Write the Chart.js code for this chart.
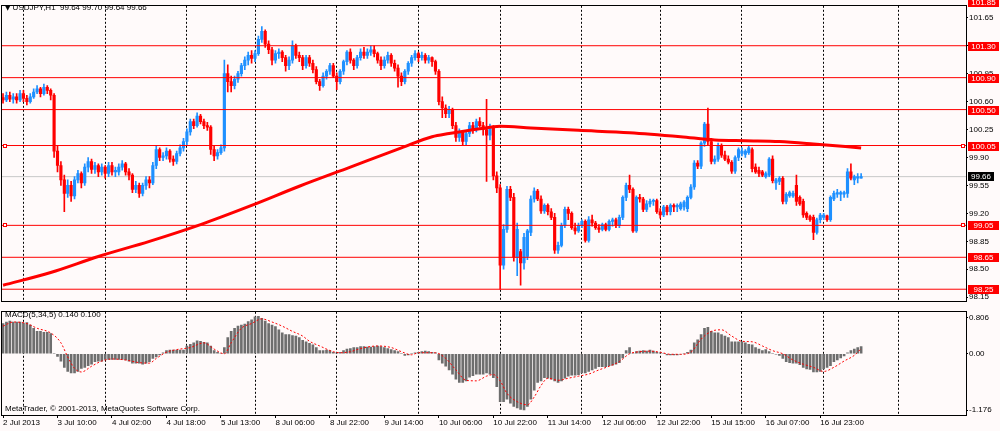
<!DOCTYPE html>
<html><head><meta charset="utf-8">
<script src="https://cdn.jsdelivr.net/npm/chart.js@4.4.1/dist/chart.umd.min.js"></script>
<style>
html,body{margin:0;padding:0;background:#FFFAFA;}
#wrap{position:relative;width:1000px;height:431px;overflow:hidden;background:#FFFAFA;}
canvas{position:absolute;left:0;}
#c1{top:0;}
#c2{top:306px;}
.t{position:absolute;font:8px 'Liberation Sans',Arial,sans-serif;color:#000;white-space:pre;line-height:10px;}
.tri{font-family:'DejaVu Sans';font-size:7px;}
</style></head><body>
<div id="wrap">
<canvas id="c1" width="1000" height="307"></canvas>
<canvas id="c2" width="1000" height="125"></canvas>
<div class="t" style="left:5px;top:3px"><span class="tri">▼</span> USDJPY,H1  99.64 99.70 99.64 99.66</div>
<div class="t" style="left:5px;top:310px">MACD(5,34,5) 0.140 0.100</div>
<div class="t" style="left:5px;top:404px">MetaTrader, © 2001-2013, MetaQuotes Software Corp.</div>
</div>
<script>
// ---------------- DATA ----------------
const open=[100.65,100.62,100.68,100.63,100.66,100.62,100.70,100.64,100.60,
100.66,100.72,100.76,100.70,100.78,100.74,100.68,99.98,99.80,99.62,
99.45,99.55,99.42,99.62,99.70,99.58,99.78,99.85,99.75,99.80,
99.72,99.78,99.70,99.80,99.72,99.72,99.78,99.82,99.72,99.68,99.50,
99.55,99.45,99.55,99.62,99.58,99.80,100.00,99.90,99.92,99.98,
99.88,99.85,99.95,100.02,100.10,100.22,100.35,100.30,100.42,100.35,
100.30,100.28,100.00,99.92,99.96,100.02,100.95,100.85,100.80,100.88,
100.95,101.05,101.12,101.18,101.14,101.20,101.38,101.48,101.32,101.25,
101.12,101.20,101.22,101.15,101.05,101.12,101.30,101.18,101.15,101.05,
101.15,101.08,101.00,100.85,100.80,100.92,100.98,101.05,100.92,100.85,
100.98,101.10,101.22,101.12,101.05,101.15,101.22,101.18,101.22,101.25,
101.20,101.12,101.05,101.12,101.18,101.08,101.02,100.92,100.85,100.98,
101.08,101.15,101.20,101.15,101.18,101.12,101.15,101.10,100.98,100.60,
100.52,100.45,100.50,100.30,100.15,100.22,100.10,100.20,100.30,100.25,
100.35,100.30,100.25,100.18,100.28,99.67,99.52,98.55,99.00,99.50,
99.40,98.65,98.72,98.58,98.66,98.96,99.38,99.48,99.38,99.23,
99.30,99.22,99.15,98.74,98.80,99.05,99.25,99.20,99.02,98.98,
99.05,99.10,98.86,99.12,99.08,99.02,99.00,99.06,99.00,99.10,
99.12,99.05,99.15,99.40,99.55,99.50,98.98,99.40,99.38,99.25,
99.32,99.35,99.36,99.22,99.18,99.28,99.22,99.30,99.28,99.26,
99.28,99.26,99.40,99.53,99.83,99.79,100.08,100.32,100.10,99.85,
99.88,100.05,99.93,99.88,99.84,99.73,99.90,99.95,99.94,99.96,
100.00,99.78,99.74,99.72,99.66,99.68,99.88,99.58,99.60,99.64,
99.35,99.42,99.42,99.55,99.40,99.35,99.20,99.16,99.15,98.96,
99.12,99.15,99.17,99.12,99.38,99.44,99.44,99.44,99.45,99.72,
99.62,99.64,99.64];
const high=[100.70,100.72,100.72,100.70,100.70,100.74,100.74,100.68,100.70,
100.76,100.80,100.78,100.82,100.80,100.76,100.70,100.05,99.85,99.68,
99.62,99.60,99.66,99.74,99.72,99.82,99.90,99.88,99.84,99.82,
99.82,99.80,99.84,99.84,99.78,99.82,99.86,99.84,99.76,99.70,99.60,
99.58,99.58,99.66,99.66,99.84,100.04,100.02,99.96,100.02,100.00,
99.92,99.98,100.06,100.14,100.26,100.38,100.38,100.46,100.44,100.38,
100.34,100.30,100.04,100.00,100.06,101.12,101.06,100.92,100.92,100.98,
101.08,101.16,101.22,101.24,101.24,101.42,101.54,101.50,101.36,101.28,
101.24,101.26,101.24,101.18,101.16,101.36,101.32,101.22,101.18,101.18,
101.18,101.12,101.04,100.88,100.96,101.00,101.08,101.08,100.96,101.00,
101.12,101.24,101.26,101.14,101.18,101.26,101.28,101.26,101.30,101.30,
101.22,101.16,101.16,101.22,101.20,101.12,101.06,100.96,101.00,101.10,
101.18,101.24,101.22,101.22,101.20,101.18,101.16,101.12,101.00,100.66,
100.56,100.54,100.52,100.34,100.26,100.24,100.24,100.34,100.34,100.38,
100.40,100.34,100.63,100.32,100.30,99.72,99.56,99.06,99.54,99.54,
99.45,99.08,98.75,98.95,99.00,99.42,99.52,99.50,99.42,99.32,
99.32,99.26,99.20,98.84,99.08,99.28,99.28,99.22,99.08,99.08,
99.12,99.12,99.16,99.18,99.10,99.06,99.08,99.08,99.12,99.14,
99.14,99.18,99.42,99.58,99.68,99.52,99.42,99.44,99.40,99.36,
99.38,99.38,99.38,99.26,99.30,99.30,99.32,99.32,99.32,99.34,
99.36,99.42,99.56,99.86,99.86,100.10,100.34,100.52,100.14,99.92,
100.08,100.07,99.98,99.92,99.86,99.92,100.02,100.02,100.00,100.04,
100.02,99.82,99.78,99.74,99.72,99.90,99.92,99.64,99.66,99.66,
99.46,99.48,99.48,99.68,99.42,99.38,99.22,99.18,99.18,99.14,
99.20,99.20,99.18,99.42,99.48,99.50,99.48,99.48,99.76,99.82,
99.68,99.70,99.70];
const low=[100.58,100.60,100.60,100.58,100.58,100.60,100.60,100.56,100.58,
100.64,100.70,100.66,100.68,100.70,100.62,99.90,99.72,99.55,99.22,
99.40,99.35,99.38,99.58,99.52,99.55,99.72,99.70,99.70,99.66,
99.68,99.64,99.66,99.68,99.66,99.68,99.74,99.68,99.62,99.46,99.46,
99.40,99.42,99.50,99.52,99.56,99.76,99.86,99.86,99.88,99.84,
99.80,99.82,99.92,99.98,100.06,100.18,100.26,100.28,100.32,100.26,
100.24,99.94,99.86,99.88,99.94,99.98,100.72,100.72,100.76,100.84,
100.92,101.00,101.06,101.08,101.10,101.18,101.34,101.28,101.20,101.06,
101.08,101.14,101.10,100.98,101.00,101.08,101.14,101.10,101.00,101.02,
101.04,100.96,100.82,100.74,100.78,100.88,100.94,100.90,100.75,100.82,
100.94,101.06,101.08,101.00,101.02,101.12,101.14,101.14,101.18,101.16,
101.08,101.00,101.02,101.08,101.04,100.98,100.78,100.80,100.82,100.94,
101.04,101.12,101.10,101.12,101.08,101.08,101.04,100.94,100.56,100.40,
100.40,100.40,100.26,100.10,100.10,100.06,100.06,100.16,100.20,100.22,
100.28,100.18,99.60,100.12,99.62,99.46,98.25,98.50,98.96,99.36,
98.60,98.42,98.30,98.50,98.62,98.92,99.34,99.36,99.20,99.20,
99.18,99.12,98.70,98.70,98.78,99.02,99.12,99.00,98.94,98.96,
99.02,98.84,98.84,99.04,99.00,98.96,98.98,98.98,98.98,99.04,
99.02,99.02,99.12,99.36,99.46,98.96,98.96,99.34,99.22,99.22,
99.28,99.30,99.20,99.14,99.16,99.18,99.18,99.22,99.22,99.24,
99.24,99.22,99.38,99.50,99.76,99.76,100.04,100.06,99.82,99.82,
99.85,99.90,99.86,99.82,99.70,99.70,99.86,99.92,99.90,99.94,
99.72,99.70,99.66,99.66,99.64,99.66,99.58,99.50,99.56,99.32,
99.32,99.40,99.40,99.30,99.30,99.15,99.12,99.10,98.87,98.94,
99.08,99.12,99.10,99.10,99.36,99.40,99.36,99.40,99.40,99.62,
99.56,99.58,99.64];
const close=[100.62,100.68,100.63,100.66,100.62,100.70,100.64,100.60,100.66,
100.72,100.76,100.70,100.78,100.74,100.68,99.98,99.80,99.62,99.45,
99.55,99.42,99.62,99.70,99.58,99.78,99.85,99.75,99.80,99.72,
99.78,99.70,99.80,99.72,99.74,99.78,99.82,99.72,99.68,99.50,99.55,
99.45,99.55,99.62,99.58,99.80,100.00,99.90,99.92,99.98,99.88,
99.85,99.95,100.02,100.10,100.22,100.35,100.30,100.42,100.35,100.30,
100.28,100.00,99.92,99.96,100.02,100.95,100.85,100.80,100.88,100.95,
101.05,101.12,101.18,101.14,101.20,101.38,101.48,101.32,101.25,101.12,
101.20,101.22,101.15,101.05,101.12,101.30,101.18,101.15,101.05,101.15,
101.08,101.00,100.85,100.80,100.92,100.98,101.05,100.92,100.85,100.98,
101.10,101.22,101.12,101.05,101.15,101.22,101.18,101.22,101.25,101.20,
101.12,101.05,101.12,101.18,101.08,101.02,100.92,100.85,100.98,101.08,
101.15,101.20,101.15,101.18,101.12,101.15,101.10,100.98,100.60,100.52,
100.45,100.50,100.30,100.15,100.22,100.10,100.20,100.30,100.25,100.35,
100.30,100.25,100.18,100.28,99.67,99.52,98.55,99.00,99.50,99.40,
98.65,99.00,98.58,98.90,98.98,99.38,99.48,99.38,99.23,99.30,
99.22,99.15,98.74,98.80,99.05,99.25,99.20,99.02,98.98,99.05,
99.10,98.86,99.12,99.08,99.02,99.00,99.06,99.00,99.10,99.12,
99.05,99.15,99.40,99.55,99.50,98.98,99.40,99.38,99.25,99.32,
99.35,99.36,99.22,99.18,99.28,99.22,99.30,99.28,99.30,99.32,
99.34,99.40,99.53,99.83,99.79,100.08,100.32,100.10,99.85,99.88,
100.05,99.93,99.88,99.84,99.73,99.90,100.00,99.98,99.98,100.02,
99.76,99.72,99.70,99.68,99.70,99.88,99.61,99.62,99.64,99.35,
99.44,99.46,99.45,99.35,99.32,99.18,99.15,99.12,98.96,99.12,
99.18,99.18,99.12,99.40,99.45,99.46,99.46,99.46,99.72,99.64,
99.66,99.66,99.66];
// moving average (read at sample bars)
const maIdx=[0,14,28,43,58,73,87,102,117,126,131,140,146,155,169,184,199,209,218,228,238,252];
const maVal=[98.30,98.46,98.66,98.85,99.06,99.30,99.54,99.78,100.02,100.16,100.20,100.26,100.29,100.27,100.24,100.21,100.16,100.12,100.11,100.10,100.07,100.02];
// MACD(5,34,5) main histogram per bar
const macd=[0.58,0.61,0.63,0.61,0.61,0.61,0.59,0.60,0.55,0.49,
0.43,0.43,0.41,0.41,0.39,0.01,-0.05,-0.14,-0.26,-0.34,
-0.37,-0.37,-0.34,-0.28,-0.26,-0.23,-0.20,-0.15,-0.14,-0.14,
-0.11,-0.11,-0.11,-0.11,-0.11,-0.11,-0.12,-0.14,-0.18,-0.18,
-0.18,-0.20,-0.18,-0.15,-0.09,-0.06,-0.02,0.02,0.06,0.07,
0.07,0.07,0.07,0.07,0.15,0.18,0.21,0.25,0.24,0.22,
0.21,0.15,0.06,0.03,0.00,0.12,0.31,0.43,0.49,0.53,
0.55,0.57,0.62,0.65,0.71,0.72,0.68,0.63,0.58,0.55,
0.52,0.46,0.40,0.37,0.37,0.35,0.34,0.31,0.26,0.23,
0.20,0.17,0.12,0.06,0.06,0.07,0.06,0.03,0.02,0.03,
0.06,0.09,0.10,0.12,0.12,0.14,0.14,0.13,0.13,0.14,
0.15,0.14,0.12,0.10,0.08,0.06,0.04,0.00,-0.03,-0.02,
0.00,0.02,0.03,0.04,0.05,0.04,0.03,0.02,-0.12,-0.18,
-0.24,-0.31,-0.39,-0.49,-0.55,-0.55,-0.52,-0.45,-0.42,-0.39,
-0.39,-0.39,-0.37,-0.39,-0.46,-0.63,-0.92,-0.92,-0.87,-0.95,
-1.01,-1.04,-1.07,-1.08,-1.01,-0.87,-0.70,-0.55,-0.52,-0.46,
-0.47,-0.49,-0.52,-0.55,-0.52,-0.47,-0.43,-0.41,-0.41,-0.40,
-0.37,-0.37,-0.34,-0.31,-0.28,-0.25,-0.25,-0.25,-0.23,-0.22,
-0.20,-0.17,-0.08,0.06,0.12,0.00,0.04,0.05,0.06,0.05,
0.07,0.05,0.03,0.02,0.00,-0.02,-0.02,-0.02,-0.02,-0.01,
0.00,0.03,0.07,0.21,0.27,0.37,0.49,0.51,0.43,0.40,
0.40,0.37,0.34,0.31,0.23,0.23,0.23,0.23,0.21,0.18,
0.17,0.12,0.09,0.06,0.08,0.04,0.00,-0.01,-0.03,-0.09,
-0.15,-0.17,-0.18,-0.18,-0.21,-0.26,-0.29,-0.30,-0.35,-0.35,
-0.34,-0.29,-0.26,-0.23,-0.15,-0.12,-0.08,-0.04,0.02,0.06,
0.09,0.12,0.14];
// MACD signal line (read at sample bars)
const sigIdx=[0,3,7,10,14,17,19,21,23,26,29,32,36,40,43,45,48,51,55,59,62,65,67,70,73,76,79,82,85,88,90,93,97,99,102,105,110,114,117,120,122,127,130,133,136,139,142,144,146,148,151,154,156,158,160,163,166,169,172,175,178,181,184,187,190,193,196,199,202,205,208,211,214,217,220,223,226,229,232,235,238,241,244,247,250,252];
const sigVal=[0.53,0.61,0.58,0.49,0.40,0.21,-0.06,-0.28,-0.35,-0.24,-0.14,-0.10,-0.12,-0.17,-0.18,-0.09,0.03,0.08,0.12,0.21,0.09,0.00,0.21,0.49,0.58,0.67,0.61,0.53,0.43,0.34,0.24,0.15,0.04,0.02,0.04,0.10,0.15,0.12,0.04,-0.02,0.02,0.02,-0.09,-0.31,-0.51,-0.52,-0.43,-0.40,-0.52,-0.76,-0.92,-0.98,-0.83,-0.61,-0.47,-0.51,-0.47,-0.43,-0.39,-0.31,-0.24,-0.15,0.00,0.04,0.05,0.03,-0.01,-0.01,0.03,0.28,0.43,0.46,0.34,0.24,0.23,0.15,0.06,0.00,-0.12,-0.20,-0.26,-0.34,-0.26,-0.14,-0.03,0.10];
// horizontal levels and bid
const levels=[101.85,101.30,100.90,100.50,100.05,99.05,98.65,98.25];
const markedLevels=[100.05,99.05];
const bid=99.66;
// axis ticks
const priceTicks=[98.15,98.50,98.85,99.20,99.55,99.90,100.25,100.60,100.95,101.30,101.65];
const macdTickVals=[0.695,0,-1.083];
const macdTickText=['0.806','0.00','-1.176'];
const timeIdx=[0,16,32,48,64,80,96,112,128,144,160,176,192,208,224,240];
const timeText=['2 Jul 2013','3 Jul 10:00','4 Jul 02:00','4 Jul 18:00','5 Jul 13:00','8 Jul 06:00','8 Jul 22:00','9 Jul 14:00','10 Jul 06:00','10 Jul 22:00','11 Jul 14:00','12 Jul 06:00','12 Jul 22:00','15 Jul 15:00','16 Jul 07:00','16 Jul 23:00'];
const dayIdx=[6,30,54,74,98,122,146,170,193,217,241,263];

// ---------------- CHART ----------------
const X_MIN=-0.3, X_MAX=282.8;
const BULL='#1E90FF', BEAR='#FF0000';
Chart.defaults.font.family="'Liberation Sans', Arial, sans-serif";
Chart.defaults.font.size=8;
Chart.defaults.color='#000';
const candleColor=c=> close[c.dataIndex]>=open[c.dataIndex]?BULL:BEAR;
const frame={id:'frame',afterDraw(ch){const a=ch.chartArea,ctx=ch.ctx;ctx.save();ctx.strokeStyle='#000';ctx.lineWidth=1;
 ctx.strokeRect(Math.round(a.left)-0.5,Math.round(a.top)-0.5,Math.round(a.right-a.left)+1,Math.round(a.bottom-a.top)+1);ctx.restore();}};
const levelLabels={id:'levelLabels',afterDraw(ch){
 const ctx=ch.ctx,a=ch.chartArea,y=ch.scales.y;ctx.save();
 ctx.font="8px 'Liberation Sans', Arial, sans-serif";ctx.textAlign='center';ctx.textBaseline='middle';
 markedLevels.forEach(v=>{const py=Math.round(y.getPixelForValue(v));
   [a.left+1,a.right-5].forEach(px=>{ctx.fillStyle='#FFFFFF';ctx.fillRect(px,py-2,4,4);ctx.strokeStyle='#FF0000';ctx.lineWidth=1;ctx.strokeRect(px+0.5,py-1.5,3,3);});});
 const bx=a.right+2;
 levels.forEach(v=>{const py=Math.round(y.getPixelForValue(v));
   ctx.fillStyle='#FF0000';ctx.fillRect(bx,py-4,31,9);ctx.fillStyle='#FFFFFF';ctx.fillText(v.toFixed(2),bx+15.5,py+0.5);});
 const pb=Math.round(y.getPixelForValue(bid));
 ctx.fillStyle='#000000';ctx.fillRect(bx,pb-5,26,9);ctx.fillStyle='#FFFFFF';ctx.fillText(bid.toFixed(2),bx+13,pb-0.5);
 ctx.restore();}};

const hLine=(v,color,order)=>({type:'line',data:[{x:X_MIN,y:v},{x:X_MAX,y:v}],borderColor:color,borderWidth:1,pointRadius:0,order:order});

new Chart(document.getElementById('c1'),{
 type:'bar',
 data:{datasets:[
  {type:'line',data:maIdx.map((x,k)=>({x:x,y:maVal[k]})),borderColor:'#FF0000',borderWidth:3,pointRadius:0,cubicInterpolationMode:'monotone',order:0},
  ...levels.map(v=>hLine(v,'#FF0000',1)),
  hLine(bid,'#C8C8C8',5),
  {data:close.map((c,i)=>({x:i,y:[open[i],c]})),backgroundColor:candleColor,barThickness:2.5,grouped:false,minBarLength:1,borderWidth:0,order:2},
  {data:close.map((c,i)=>({x:i,y:[low[i],high[i]]})),backgroundColor:candleColor,barThickness:1,grouped:false,borderWidth:0,order:3}
 ]},
 options:{responsive:false,animation:false,devicePixelRatio:1,events:[],
  layout:{padding:{left:2,top:3,right:0,bottom:0}},
  plugins:{legend:{display:false},tooltip:{enabled:false}},
  scales:{
   x:{type:'linear',min:X_MIN,max:X_MAX,offset:false,position:'bottom',
      afterBuildTicks:s=>{s.ticks=dayIdx.map(v=>({value:v}));},
      ticks:{display:false},
      grid:{offset:false,drawTicks:false,color:'#000',lineWidth:1},
      border:{display:false,dash:[2,2]},
      afterFit:s=>{s.height=2;}},
   y:{position:'right',min:98.10,max:101.80,
      afterBuildTicks:s=>{s.ticks=priceTicks.map(v=>({value:v}));},
      ticks:{callback:v=>v.toFixed(2),color:'#000',padding:1},
      grid:{drawOnChartArea:false,tickLength:2,color:'#000'},
      border:{display:true,color:'#000'},
      afterFit:s=>{s.width=34;}}
  }},
 plugins:[frame,levelLabels]
});

const daySet=new Set(dayIdx);
const timeMap={};timeIdx.forEach((v,k)=>{timeMap[v]=timeText[k];});
new Chart(document.getElementById('c2'),{
 type:'bar',
 data:{datasets:[
  {type:'line',data:sigIdx.map((x,k)=>({x:x,y:sigVal[k]})),borderColor:'#FF0000',borderWidth:1,borderDash:[2,2],pointRadius:0,cubicInterpolationMode:'monotone',order:0},
  {data:macd.map((v,i)=>({x:i,y:v})),backgroundColor:'#6E6E6E',barThickness:2,borderWidth:0,order:1}
 ]},
 options:{responsive:false,animation:false,devicePixelRatio:1,events:[],
  layout:{padding:{left:2,top:2,right:0,bottom:0}},
  plugins:{legend:{display:false},tooltip:{enabled:false}},
  scales:{
   x:{type:'linear',min:X_MIN,max:X_MAX,offset:false,position:'bottom',
      afterBuildTicks:s=>{s.ticks=[...dayIdx,...timeIdx].sort((a,b)=>a-b).map(v=>({value:v}));},
      ticks:{autoSkip:false,maxRotation:0,minRotation:0,align:'start',padding:0,color:'#000',callback:v=>timeMap[v]||''},
      grid:{offset:false,drawTicks:true,tickLength:3,lineWidth:1,
        color:c=>(c.tick&&daySet.has(c.tick.value))?'#000':'rgba(0,0,0,0)',
        tickColor:c=>(c.tick&&daySet.has(c.tick.value))?'rgba(0,0,0,0)':'#000'},
      border:{display:true,color:'#000',dash:[2,2]},
      afterFit:s=>{s.height=16;}},
   y:{position:'right',min:-1.176,max:0.806,
      afterBuildTicks:s=>{s.ticks=macdTickVals.map(v=>({value:v}));},
      ticks:{callback:(v,i)=>macdTickText[i],color:'#000',padding:1},
      grid:{drawOnChartArea:false,tickLength:2,color:'#000'},
      border:{display:true,color:'#000'},
      afterFit:s=>{s.width=34;}}
  }},
 plugins:[frame]
});
</script>
</body></html>
